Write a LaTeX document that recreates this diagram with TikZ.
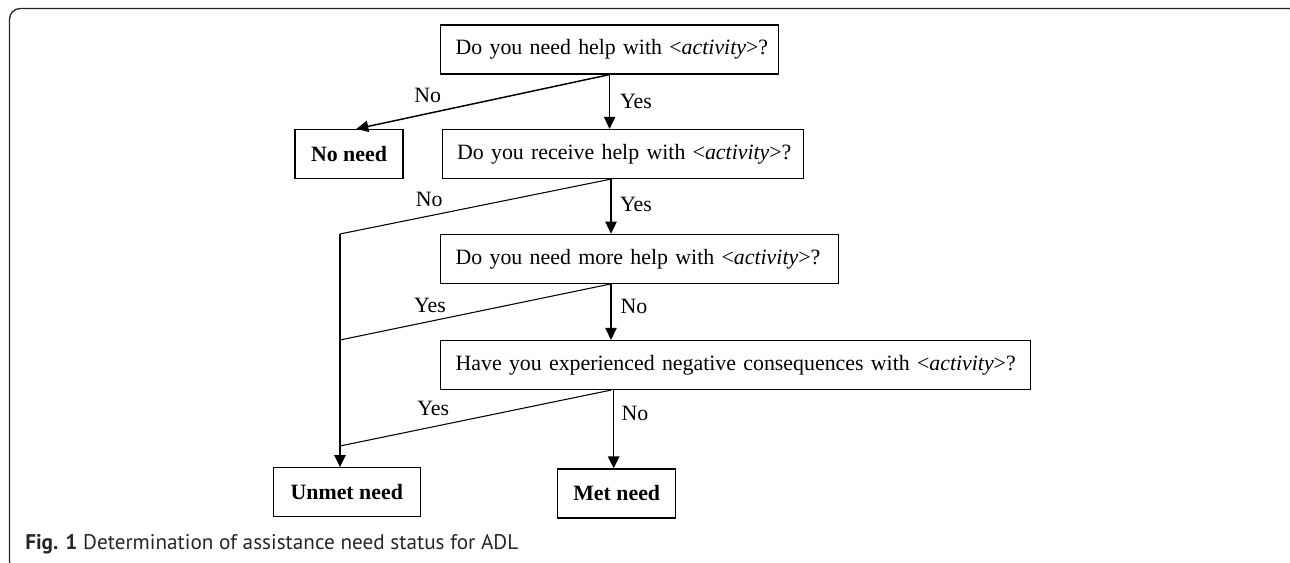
\documentclass[tikz,border=0pt]{standalone}
\usepackage{amsmath}
\usepackage{fontspec}
\setmainfont{Liberation Serif}
\newfontfamily\capfont{PT Sans}
\usetikzlibrary{arrows.meta}

\tikzset{
  qbox/.style={draw, line width=0.9pt, inner xsep=11.25pt, inner ysep=0pt, minimum height=36.75pt, align=left, anchor=west, font=\fontsize{16.4}{19}\selectfont},
  endbox/.style={draw, line width=0.9pt, inner sep=0pt, minimum height=36.75pt, font=\fontsize{16.4}{19}\selectfont\bfseries},
  yesno/.style={inner sep=0.75pt, font=\fontsize{16.4}{19}\selectfont},
  flow/.style={line width=1.1pt, -{Triangle[length=9pt,width=8.5pt]}},
  branch/.style={line width=0.8pt},
}

\begin{document}
\begin{tikzpicture}[x=0.75pt,y=0.75pt,yscale=-1,xscale=1]
\useasboundingbox (0,0) rectangle (1290,563);
\clip (0,0) rectangle (1290,563);

%Shape: Rounded Rect (frame)
\draw [line width=1pt, color=black!85, rounded corners=8pt] (9.5,8.5) rectangle (1300,572);

% Question boxes
\node [qbox, text width=231pt] (q1) at (440,49.5) {\mbox{Do you need help with <\textit{activity}>?}};
\node [qbox, text width=248.4pt] (q2) at (441.5,154) {\mbox{Do you receive help with <\textit{activity}>?}};
\node [qbox, text width=275.8pt] (q3) at (440,258.8) {\mbox{Do you need more help with <\textit{activity}>?}};
\node [qbox, text width=420pt] (q4) at (440,365) {\mbox{Have you experienced negative consequences with <\textit{activity}>?}};

% Outcome boxes
\node [endbox, minimum width=81pt] (noneed) at (349,154) {No need};
\node [endbox, minimum width=110.25pt] (unmet) at (346.8,492.2) {Unmet need};
\node [endbox, minimum width=88.5pt] (met) at (616.7,493.5) {Met need};

% Branch points
\coordinate (col) at (611,0);
\coordinate (j1) at (340,234);
\coordinate (j2) at (340,340);
\coordinate (j3) at (340,446);

%Straight Lines
\draw [flow] (q1.south) -- ([xshift=5.5pt]noneed.north);
\draw [flow] (q1.south) -- (q1.south |- q2.north);
%Straight Lines
\draw [branch] (col |- q2.south) -- (j1);
\draw [flow] (col |- q2.south) -- (col |- q3.north);
%Straight Lines
\draw [branch] (col |- q3.south) -- (j2);
\draw [flow] (col |- q3.south) -- (col |- q4.north);
%Straight Lines
\draw [branch] (col |- q4.south) -- (j3);
\draw [flow] ([xshift=2pt]col |- q4.south) -- ([xshift=2pt]col |- met.north);
%Straight Lines
\draw [flow] (j1) -- (j1 |- unmet.north);

% Text Node
\node [yesno] (no1) at (427.7,95) {No};
\node [yesno] (yes1) at (636,101.7) {Yes};
\node [yesno] (no2) at (429.3,199) {No};
\node [yesno] (yes2) at (636,204.3) {Yes};
\node [yesno] (yes3) at (430,305.7) {Yes};
\node [yesno] (no3) at (634,306.7) {No};
\node [yesno] (yes4) at (433.3,408.3) {Yes};
\node [yesno] (no4) at (635,413.3) {No};

% Caption
\node [anchor=west, inner sep=0pt, text=black!85, font=\capfont\fontsize{15.9}{18}\selectfont] (cap) at (25,544) {\textbf{Fig. 1} Determination of assistance need status for ADL};
\end{tikzpicture}
\end{document}
